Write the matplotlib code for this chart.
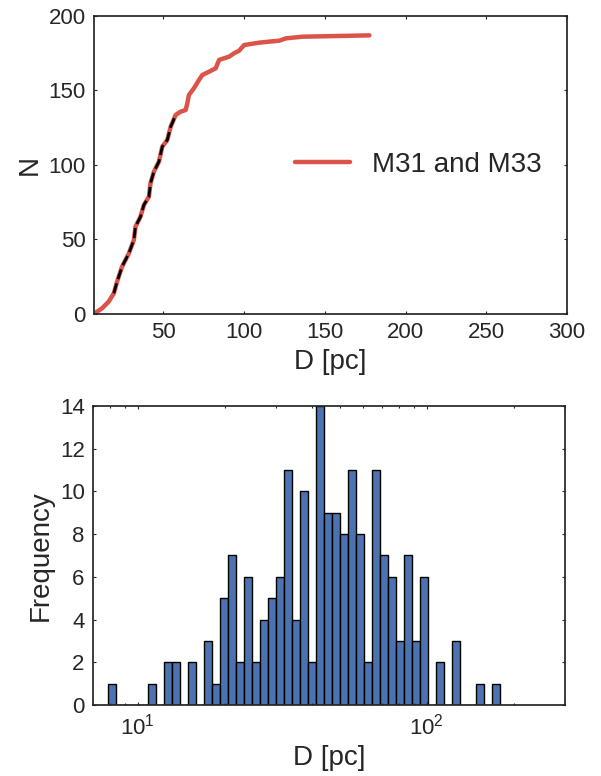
import numpy as np
import matplotlib
matplotlib.use("Agg")
import matplotlib.pyplot as plt

plt.rcParams["font.family"] = ["Liberation Sans", "DejaVu Sans"]
plt.rcParams["mathtext.default"] = "regular"

# cumulative curve
d_curve = [7.5, 12.0, 16.1, 19.3, 21.3, 24.4, 28.6, 31.7, 32.7, 35.8, 37.9, 41.0,
           42.0, 44.1, 47.2, 49.3, 52.4, 54.5, 57.6, 60.7, 63.8, 64.8, 65.8, 68.9,
           72.0, 74.1, 78.3, 82.4, 84.5, 87.6, 90.7, 93.8, 96.9, 100.0, 109.3,
           115.5, 121.7, 125.9, 136.2, 177.6]
n_curve = [0.5, 3.8, 8.3, 13.9, 21.7, 31.8, 40.7, 49.7, 58.6, 65.3, 73.2, 78.7,
           87.7, 95.5, 102.2, 112.3, 116.8, 125.7, 133.6, 135.8, 136.9, 141.4, 147,
           151.5, 157, 160.4, 162.6, 164.9, 170.5, 171.6, 172.7, 175, 176.7, 180.5,
           182.1, 182.8, 183.4, 185, 186.1, 187]
fit_range = (19.0, 60.0)

# histogram counts in 49 log-spaced bins
d_min, d_max = 7.9, 179.0
counts = [1, 0, 0, 0, 0, 1, 0, 2, 2, 0, 2, 0, 3, 1, 5, 7, 2, 6, 2, 4, 5, 6, 11,
          4, 10, 2, 14, 9, 9, 8, 11, 8, 2, 11, 7, 6, 3, 7, 3, 6, 0, 2, 0, 3, 0,
          0, 1, 0, 1]

red = "#db5349"
blue = "#4c72b0"
dark = "#262626"

fig = plt.figure(figsize=(6.01, 7.76), dpi=100)
ax1 = fig.add_axes([0.1564, 0.5954, 0.787, 0.384])
ax2 = fig.add_axes([0.1547, 0.0915, 0.785, 0.3853])

for ax in (ax1, ax2):
    for s in ax.spines.values():
        s.set_color(dark)
        s.set_linewidth(1.25)
    ax.tick_params(which="both", direction="in", top=True, right=True,
                   colors=dark, labelsize=16, width=0.8)
    ax.tick_params(which="major", length=2.5, pad=6)
    ax.tick_params(which="minor", length=1.5)

# top panel
d_arr = np.array(d_curve)
n_arr = np.array(n_curve)
ax1.plot(d_arr, n_arr, color=red, lw=3.2, label="M31 and M33", solid_capstyle="round")
m = (d_arr >= fit_range[0]) & (d_arr <= fit_range[1])
ax1.plot(d_arr[m], n_arr[m], color="black", lw=2, ls="--")
ax1.set_xlim(7, 300)
ax1.set_ylim(0, 200)
ax1.set_xticks([50, 100, 150, 200, 250, 300])
ax1.set_yticks([0, 50, 100, 150, 200])
ax1.set_xlabel("D [pc]", fontsize=20, color=dark)
ax1.set_ylabel("N", fontsize=20, color=dark)
leg = ax1.legend(loc="center right", frameon=False, fontsize=20)
for t in leg.get_texts():
    t.set_color(dark)

# bottom panel
edges = np.logspace(np.log10(d_min), np.log10(d_max), len(counts) + 1)
ax2.hist(edges[:-1], bins=edges, weights=counts, color=blue,
         edgecolor="black", linewidth=1)
ax2.set_xscale("log")
ax2.set_xlim(7, 300)
ax2.set_ylim(0, 14)
ax2.set_yticks(range(0, 15, 2))
ax2.set_xlabel("D [pc]", fontsize=20, color=dark)
ax2.set_ylabel("Frequency", fontsize=20, color=dark)

fig.savefig("out.png", dpi=100)
